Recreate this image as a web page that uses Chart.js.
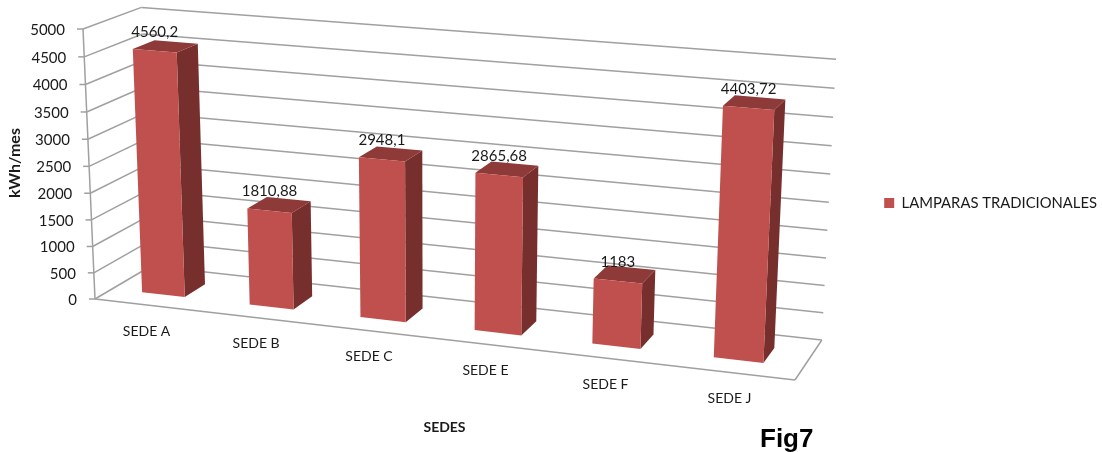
<!DOCTYPE html>
<html lang="es">
<head>
<meta charset="UTF-8">
<title>Fig7</title>
<script src="https://cdn.jsdelivr.net/npm/chart.js"></script>
<style>
    html, body { margin: 0; padding: 0; background: #fff; }
    #wrap { width: 1102px; height: 452px; }
</style>
</head>
<body>
<div id="wrap"><canvas id="grafica" width="1102" height="452"></canvas></div>
<script>
const sedes = ['SEDE A', 'SEDE B', 'SEDE C', 'SEDE E', 'SEDE F', 'SEDE J'];
const lamparas = [4560.2, 1810.88, 2948.1, 2865.68, 1183, 4403.72];
const yTicks = [0, 500, 1000, 1500, 2000, 2500, 3000, 3500, 4000, 4500, 5000];

// Corners of the 3D box on the page, and the perspective weights of its three axes
const origen = [95, 299], finX = [795, 380], finY = [83, 29], finZ = [151, 266];
const pesoX = 0.9115, pesoY = 0.966, pesoZ = 1.047;
// Where the bars sit in depth (0 front, 1 back), and a small nudge along the x axis
const frenteBarra = 0.30, fondoBarra = 0.68, ajusteBarra = -0.003;

function proyectar(u, v, d) {
    const w = 1 + u * (pesoX - 1) + v * (pesoY - 1) + d * (pesoZ - 1);
    const eje = i => origen[i]
        + u * (pesoX * finX[i] - origen[i])
        + v * (pesoY * finY[i] - origen[i])
        + d * (pesoZ * finZ[i] - origen[i]);
    return [eje(0) / w, eje(1) / w];
}

function linea(ctx, a, b) {
    ctx.beginPath();
    ctx.moveTo(a[0], a[1]);
    ctx.lineTo(b[0], b[1]);
    ctx.stroke();
}

function cara(ctx, puntos, color) {
    ctx.fillStyle = color;
    ctx.beginPath();
    puntos.forEach((p, i) => i ? ctx.lineTo(p[0], p[1]) : ctx.moveTo(p[0], p[1]));
    ctx.closePath();
    ctx.fill();
}

function texto(ctx, t, x, y, fuente, alinear) {
    ctx.font = fuente;
    ctx.fillStyle = '#1a1a1a';
    ctx.textAlign = alinear || 'center';
    ctx.textBaseline = 'middle';
    ctx.fillText(t, x, y);
}

const caja3d = {
    id: 'caja3d',
    beforeDatasetsDraw(chart) {
        const { ctx, scales } = chart;
        const yS = scales.y, xS = scales.x;
        ctx.save();
        ctx.strokeStyle = '#a0a0a0';
        ctx.lineWidth = 1.5;
        // walls
        yTicks.forEach(t => {
            const v = (yS.bottom - yS.getPixelForValue(t)) / yS.height;
            const a = proyectar(0, v, 0), b = proyectar(0, v, 1), c = proyectar(1, v, 1);
            linea(ctx, a, b);
            linea(ctx, b, c);
            linea(ctx, [a[0] - 6, a[1]], a);
            texto(ctx, String(t), a[0] - 18, a[1] + 1, '15px Lato', 'right');
        });
        // floor and axis
        linea(ctx, proyectar(0, 0, 0), proyectar(0, 1, 0));
        linea(ctx, proyectar(0, 0, 0), proyectar(1, 0, 0));
        linea(ctx, proyectar(1, 0, 0), proyectar(1, 0, 1));
        // category labels
        sedes.forEach((s, i) => {
            const u = (xS.getPixelForValue(i) - xS.left) / xS.width;
            const p = proyectar(u, 0, 0);
            texto(ctx, s, p[0] - 2, p[1] + 26, '14px Lato');
        });
        // titles
        texto(ctx, 'SEDES', 444.5, 427, 'bold 14px Lato');
        ctx.save();
        ctx.translate(15, 163);
        ctx.rotate(-Math.PI / 2);
        texto(ctx, 'kWh/mes', 0, 0, 'bold 16px Lato');
        ctx.restore();
        ctx.fillStyle = '#000';
        ctx.font = 'bold 26px "Liberation Sans"';
        ctx.textAlign = 'left';
        ctx.textBaseline = 'alphabetic';
        ctx.fillText('Fig7', 760, 447);
        ctx.restore();
    },
    beforeDatasetDraw(chart, args) {
        const { ctx, scales } = chart;
        const xS = scales.x, yS = scales.y;
        const d0 = frenteBarra, d1 = fondoBarra;
        ctx.save();
        args.meta.data.forEach((barra, i) => {
            const uL = (barra.x - barra.width / 2 - xS.left) / xS.width + ajusteBarra;
            const uR = (barra.x + barra.width / 2 - xS.left) / xS.width + ajusteBarra;
            const v1 = (yS.bottom - barra.y) / yS.height;
            const v0 = (yS.bottom - barra.base) / yS.height;
            cara(ctx, [proyectar(uR, v0, d0), proyectar(uR, v0, d1), proyectar(uR, v1, d1), proyectar(uR, v1, d0)], '#772f2d');
            cara(ctx, [proyectar(uL, v1, d0), proyectar(uR, v1, d0), proyectar(uR, v1, d1), proyectar(uL, v1, d1)], '#8e3a38');
            cara(ctx, [proyectar(uL, v0, d0), proyectar(uR, v0, d0), proyectar(uR, v1, d0), proyectar(uL, v1, d0)], '#c0504d');
            const p = proyectar((uL + uR) / 2, v1, d0);
            texto(ctx, String(lamparas[i]).replace('.', ','), p[0], p[1] - 19, '15px Lato');
        });
        ctx.restore();
        return false;
    }
};

new Chart(document.getElementById('grafica'), {
    type: 'bar',
    data: {
        labels: sedes,
        datasets: [{
            label: 'LAMPARAS TRADICIONALES',
            data: lamparas,
            backgroundColor: '#c0504d',
            categoryPercentage: 1,
            barPercentage: 0.4
        }]
    },
    options: {
        responsive: false,
        animation: false,
        layout: { padding: { right: -5, bottom: 46 } },
        plugins: {
            tooltip: { enabled: false },
            legend: {
                position: 'right',
                labels: { boxWidth: 10, boxHeight: 10, padding: 5, color: '#1a1a1a', font: { family: 'Lato', size: 14.8 } }
            }
        },
        scales: {
            x: { display: false },
            y: { display: false, min: 0, max: 5000 }
        }
    },
    plugins: [caja3d]
});
</script>
</body>
</html>
